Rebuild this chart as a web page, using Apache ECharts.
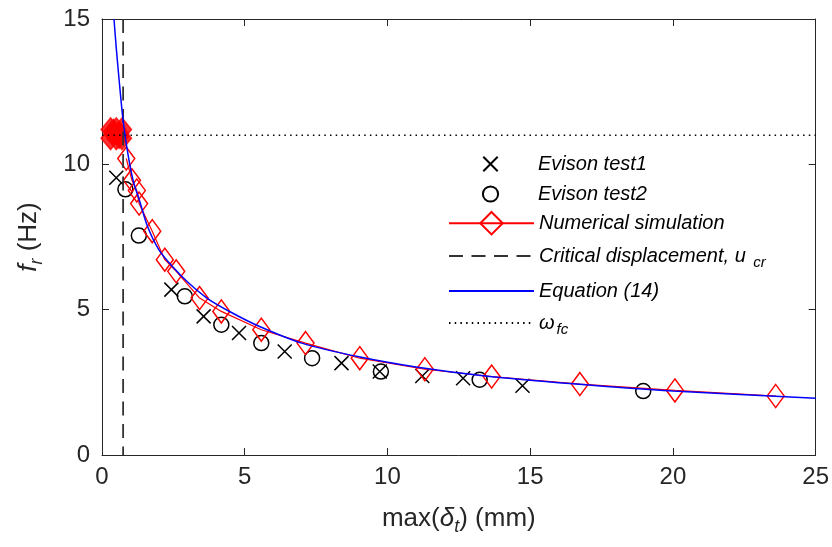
<!DOCTYPE html>
<html><head><meta charset="utf-8">
<script src="https://cdn.jsdelivr.net/npm/echarts@6/dist/echarts.min.js"></script>
<style>html,body{margin:0;padding:0;background:#fff}#c{width:832px;height:547px}</style>
</head><body><div id="c"></div>
<script>
// ---- data ----
const xTicks = [0, 5, 10, 15, 20, 25];
const yTicks = [0, 5, 10, 15];

const test1X = [0.50, 2.43, 3.56, 4.80, 6.40, 8.39, 9.73, 11.22, 12.65, 14.73];
const test1Y = [9.54, 5.69, 4.77, 4.20, 3.56, 3.16, 2.87, 2.72, 2.64, 2.38];

const test2X = [0.82, 1.29, 2.90, 4.18, 5.58, 7.36, 9.77, 13.23, 18.96];
const test2Y = [9.14, 7.55, 5.46, 4.48, 3.85, 3.33, 2.87, 2.59, 2.20];

const clusterX = [0.30, 0.50, 0.70, 0.30, 0.50, 0.70, 0.40, 0.60, 0.40, 0.60];
const clusterY = [11.20, 11.20, 11.20, 10.90, 10.90, 10.90, 11.05, 11.05, 11.15, 10.95];

const simX = [0.85, 1.05, 1.22, 1.30, 1.76, 2.20, 2.60, 3.42, 4.18, 5.58, 7.13, 9.03, 11.31, 13.65, 16.74, 20.07, 23.60];
const simY = [10.20, 9.45, 9.10, 8.65, 7.70, 6.72, 6.32, 5.40, 4.94, 4.31, 3.85, 3.33, 2.95, 2.70, 2.44, 2.22, 2.03];

const eqX = [0.42, 0.50, 0.60, 0.74, 0.90, 1.10, 1.30, 1.60, 2.00, 2.50, 3.00, 3.70, 4.50, 5.50, 7.00, 9.00, 11.00, 13.50, 16.50, 20.00, 25.00];
const eqY = [15.00, 14.00, 12.90, 11.50, 10.40, 9.40, 8.80, 7.85, 7.05, 6.45, 5.95, 5.38, 4.92, 4.43, 3.85, 3.38, 3.03, 2.71, 2.45, 2.20, 1.95];

const uCr = 0.74;
const omegaFc = 11.0;

// ---- chart ----
const pair = (xs, ys) => xs.map((x, i) => [x, ys[i]]);
const FF = '"Liberation Sans", Arial, Helvetica, sans-serif';
const AX = '#262626';
const CLEAR = 'rgba(0,0,0,0)';

const legRich = {
  it: {fontFamily: FF, fontSize: 20, fontStyle: 'italic', color: '#000'},
  sub: {fontFamily: FF, fontSize: 15, fontStyle: 'italic', color: '#000', padding: [14, 0, 0, 2]}
};
function leg(name, center, h, fmt, hideSymbol) {
  const item = {name: name};
  if (hideSymbol) item.itemStyle = {opacity: 0, color: CLEAR, borderColor: CLEAR};
  return {
    data: [item], left: 448, top: center - 12, itemWidth: 85, itemHeight: h,
    padding: 0, selectedMode: false,
    formatter: fmt || ('{it|' + name + '}'),
    textStyle: {fontFamily: FF, fontSize: 20, fontStyle: 'italic', color: '#000', rich: legRich}
  };
}

const chart = echarts.init(document.getElementById('c'), null, {renderer: 'canvas'});
const axisCommon = {
  axisLine: {show: true, onZero: false, lineStyle: {color: AX, width: 1}},
  axisTick: {show: true, inside: true, length: 7, lineStyle: {color: AX, width: 1}},
  splitLine: {show: false}
};
const nameRich = {
  n: {fontFamily: FF, fontSize: 26, color: AX},
  it: {fontFamily: FF, fontSize: 26, fontStyle: 'italic', color: AX},
  sub: {fontFamily: FF, fontSize: 18, fontStyle: 'italic', color: AX, padding: [17, 0, 0, 0]}
};
chart.setOption({
  animation: false,
  backgroundColor: '#fff',
  grid: {left: 102, right: 15, top: 19, bottom: 92},
  xAxis: [
    Object.assign({type: 'value', min: xTicks[0], max: xTicks[xTicks.length - 1], interval: 5, position: 'bottom',
      name: '{n|max(}{it|δ}{sub|t}{n|) (mm)}', nameLocation: 'middle', nameGap: 46,
      nameTextStyle: {rich: nameRich},
      axisLabel: {fontFamily: FF, fontSize: 24, color: AX, margin: 10}}, axisCommon),
    Object.assign({type: 'value', min: xTicks[0], max: xTicks[xTicks.length - 1], interval: 5, position: 'top',
      axisLabel: {show: false}}, axisCommon)
  ],
  yAxis: [
    Object.assign({type: 'value', min: yTicks[0], max: yTicks[yTicks.length - 1], interval: 5, position: 'left',
      name: '{it|f}{sub|r}{n| (Hz)}', nameLocation: 'middle', nameGap: 56,
      nameTextStyle: {rich: nameRich},
      axisLabel: {fontFamily: FF, fontSize: 24, color: AX, margin: 12}}, axisCommon),
    Object.assign({type: 'value', min: yTicks[0], max: yTicks[yTicks.length - 1], interval: 5, position: 'right',
      axisLabel: {show: false}}, axisCommon)
  ],
  legend: [
    leg('Evison test1', 166, 18),
    leg('Evison test2', 196, 19),
    leg('Numerical simulation', 223, 28),
    leg('Critical displacement, u cr', 258, 14, '{it|Critical displacement, u }{sub|cr}', true),
    leg('Equation (14)', 293, 14, null, true),
    leg('ω fc', 325, 14, '{it|ω}{sub|fc}', true)
  ],
  series: [
    {name: 'Evison test1', type: 'line', data: pair(test1X, test1Y),
      symbol: 'path://M0,0L10,10M10,0L0,10', symbolSize: 14, showAllSymbol: true,
      lineStyle: {width: 0, opacity: 0},
      itemStyle: {color: CLEAR, borderColor: '#000', borderWidth: 1.5}, z: 3},
    {name: 'Evison test2', type: 'line', data: pair(test2X, test2Y),
      symbol: 'circle', symbolSize: 15, showAllSymbol: true,
      lineStyle: {width: 0, opacity: 0},
      itemStyle: {color: CLEAR, borderColor: '#000', borderWidth: 1.5}, z: 3},
    {name: 'Numerical simulation', type: 'line', data: pair(simX, simY),
      symbol: 'diamond', symbolSize: [17, 23], showAllSymbol: true,
      lineStyle: {color: '#ff0000', width: 1.2},
      itemStyle: {color: CLEAR, borderColor: '#ff0000', borderWidth: 1.5}, z: 4},
    {name: 'Numerical simulation cluster', type: 'scatter', data: pair(clusterX, clusterY),
      symbol: 'diamond', symbolSize: [19, 23],
      itemStyle: {color: '#ff0000', borderColor: '#ff0000', borderWidth: 1.5}, z: 4},
    {name: 'Critical displacement, u cr', type: 'line', data: [[uCr, yTicks[yTicks.length - 1]], [uCr, yTicks[0]]],
      symbol: 'none', itemStyle: {color: CLEAR}, lineStyle: {color: '#333', width: 1.8, type: [14, 8.5]}, z: 5},
    {name: 'Equation (14)', type: 'line', data: pair(eqX, eqY), smooth: 0.3,
      symbol: 'none', itemStyle: {color: CLEAR}, lineStyle: {color: '#0000ff', width: 1.5}, z: 6},
    {name: 'ω fc', type: 'line', data: [[xTicks[0], omegaFc], [xTicks[xTicks.length - 1], omegaFc]],
      symbol: 'none', itemStyle: {color: CLEAR}, lineStyle: {color: '#000', width: 1.5, type: [1.5, 4.2]}, z: 5}
  ]
});
</script></body></html>
